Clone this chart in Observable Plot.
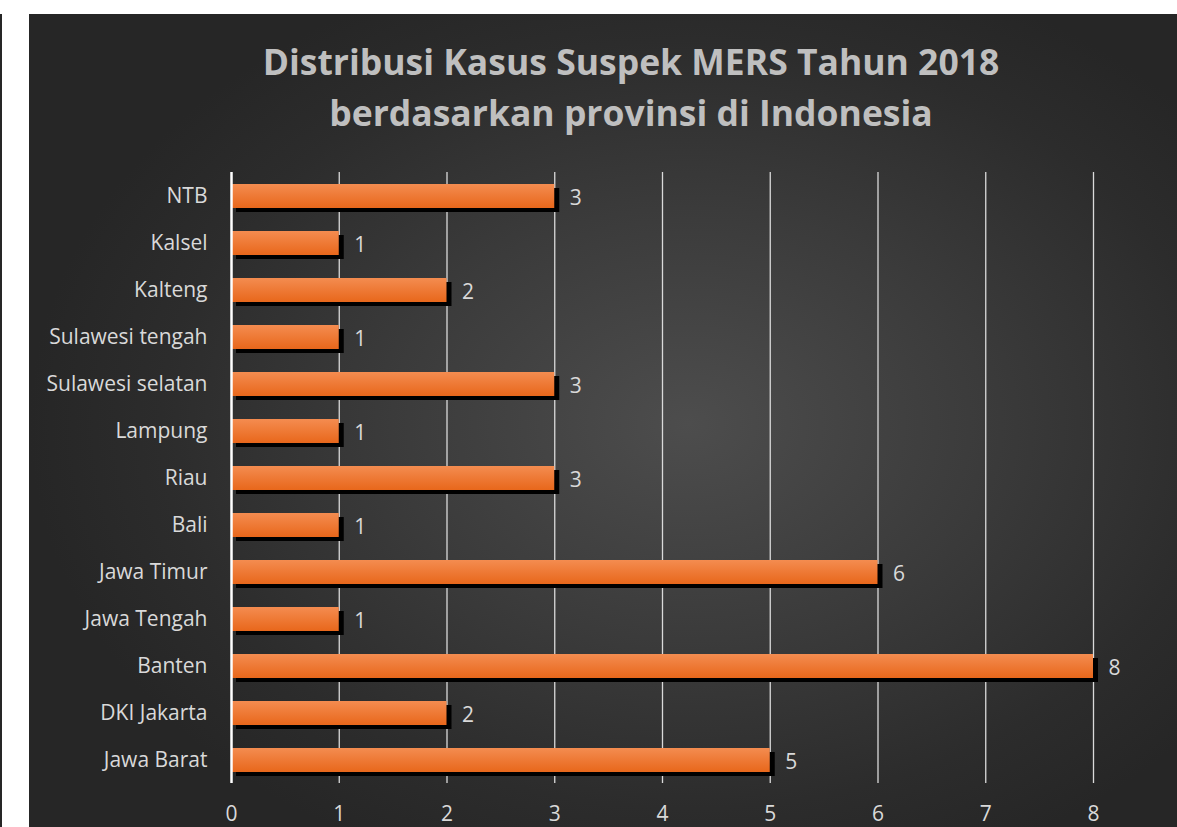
<!DOCTYPE html>
<html><head><meta charset="utf-8">
<script src="https://cdn.jsdelivr.net/npm/d3@7"></script>
<script src="https://cdn.jsdelivr.net/npm/@observablehq/plot@0.6"></script>
<style>
html{margin:0;padding:0;overflow:hidden;background:linear-gradient(to bottom,#fff 0px,#fff 14px,#262626 14px,#262626 100%);min-height:100%;}
body{margin:0;padding:0;background:transparent;overflow:hidden;}
#page{position:relative;width:100vw;min-width:1177px;height:827px;overflow:hidden;background:#fff;}
#strip{position:absolute;left:0;top:14px;width:2px;height:813px;background:#262626;}
#panel{position:absolute;left:29px;top:14px;right:0;height:813px;
 background:radial-gradient(ellipse 660px 480px at 660px 410px,#4d4d4d 0%,#3b3b3b 45%,#2c2c2c 80%,#262626 100%);}
#title{position:absolute;left:57px;top:36px;width:1148px;text-align:center;color:#bfbfbf;
 font-family:"Open Sans",sans-serif;font-weight:bold;font-size:35.5px;line-height:51px;}
#chart{position:absolute;left:29px;top:150px;}
</style></head>
<body><div id="page"><div id="strip"></div><div id="panel"></div>
<div id="title">Distribusi Kasus Suspek MERS Tahun 2018<br>berdasarkan provinsi di Indonesia</div>
<div id="chart"></div></div>
<script>
const provinces = ["NTB","Kalsel","Kalteng","Sulawesi tengah","Sulawesi selatan","Lampung","Riau","Bali","Jawa Timur","Jawa Tengah","Banten","DKI Jakarta","Jawa Barat"];
const cases = [3,1,2,1,3,1,3,1,6,1,8,2,5];
const xTicks = [0,1,2,3,4,5,6,7,8];
const data = provinces.map((p,i)=>({province:p, cases:cases[i]}));

const defs = () => {
  const d = d3.create("svg:defs");
  const g = d.append("linearGradient").attr("id","barGrad").attr("x1",0).attr("y1",0).attr("x2",0).attr("y2",1);
  g.append("stop").attr("offset","0%").attr("stop-color","#f48c50");
  g.append("stop").attr("offset","100%").attr("stop-color","#e8671b");
  return d.node();
};

const chart = Plot.plot({
  width: 1148, height: 677,
  marginLeft: 202, marginRight: 84, marginTop: 22, marginBottom: 44,
  style: {background:"transparent", color:"#d9d9d9", fontFamily:"'Open Sans', sans-serif", fontSize:"21px"},
  x: {domain:[0,8], ticks:xTicks, label:null},
  y: {domain:provinces, label:null, paddingInner:0.5, paddingOuter:0.25},
  marks: [
    defs,
    Plot.ruleX(xTicks.filter(d=>d>0), {stroke:"#dadada", strokeWidth:1.3}),
    Plot.barX(data, {y:"province", x:"cases", fill:"#000", dx:5, dy:4}),
    Plot.barX(data, {y:"province", x:"cases", fill:"url(#barGrad)"}),
    Plot.ruleX([0], {stroke:"#ffffff", strokeWidth:2.5}),
    Plot.text(data, {y:"province", x:"cases", text:d=>String(d.cases), textAnchor:"start", dx:15, dy:2, fill:"#d9d9d9", fontSize:21}),
    Plot.axisY({tickSize:0, tickPadding:24, fontSize:21, fill:"#d9d9d9"}),
    Plot.axisX({ticks:xTicks, tickSize:0, tickPadding:23, fontSize:21, fill:"#d9d9d9"})
  ]
});
document.getElementById("chart").appendChild(chart);
</script></body></html>
